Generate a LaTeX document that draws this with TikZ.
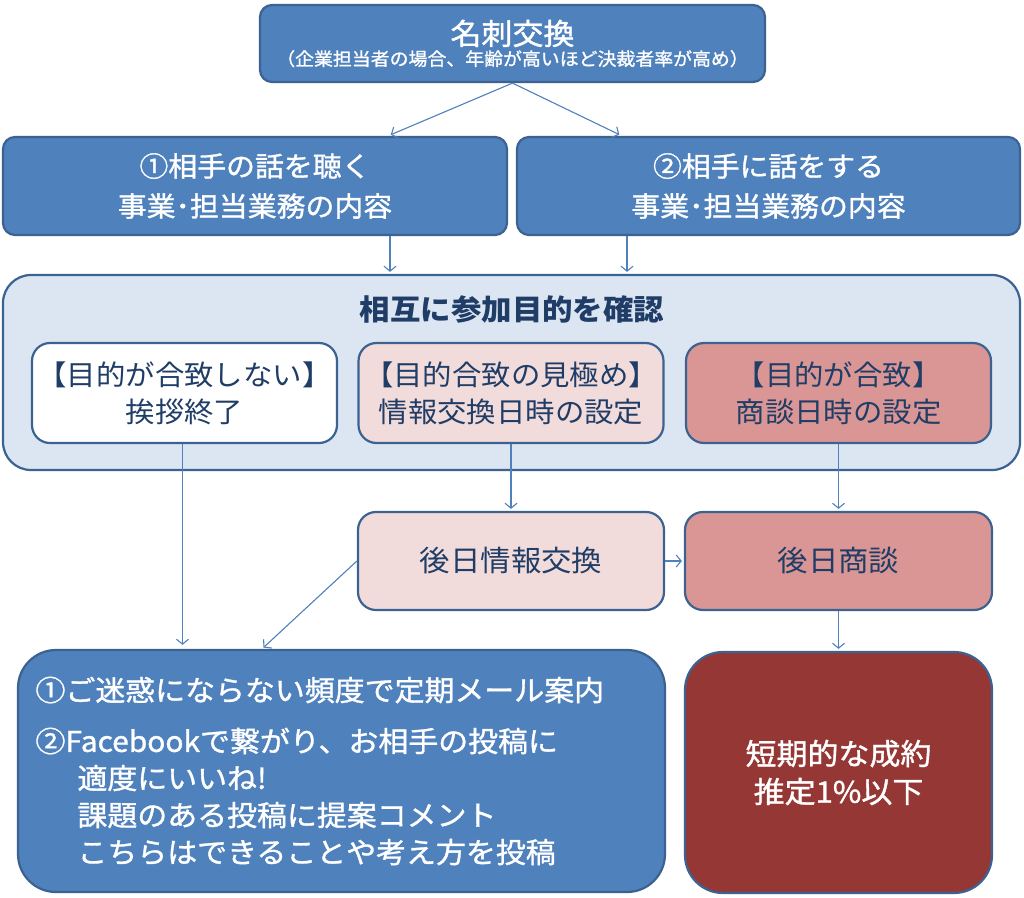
\documentclass[tikz,border=0pt]{standalone}
\usepackage{fontspec}
\setmainfont{Noto Sans CJK JP}[FakeStretch=1.05]
\newfontfamily\semibf{Noto Sans CJK JP}[FakeStretch=1.05,FakeBold=1.2]
\usetikzlibrary{arrows.meta}
\definecolor{boxblue}{HTML}{4F81BD}
\definecolor{edgeblue}{HTML}{3B6291}
\definecolor{paleblue}{HTML}{DCE6F2}
\definecolor{palepink}{HTML}{F2DCDB}
\definecolor{rose}{HTML}{D99694}
\definecolor{darkred}{HTML}{953735}
\definecolor{navy}{HTML}{1F3D66}
\begin{document}
\begin{tikzpicture}[x=1pt,y=-1pt,
  box/.style={draw=edgeblue, line width=2.2pt, rounded corners=12pt, align=center, inner sep=0pt},
  bluebox/.style={box, fill=boxblue, text=white},
  innerbox/.style={box, rounded corners=18pt, text=navy, minimum width=305pt, minimum height=100pt,
     font=\fontsize{28}{37}\selectfont},
  arr/.style={draw=boxblue, line width=1.1pt, -{Straight Barb[length=5pt,width=12pt]}}]
\useasboundingbox (0,0) rectangle (1024,897);
\fill[white] (0,0) rectangle (1024,897);

\node[bluebox, minimum width=505pt, minimum height=77pt] (top) at (512.5,43.5)
  {{\semibf\fontsize{29.5}{32}\selectfont 名刺交換}\\[2pt]{\semibf\fontsize{18}{20}\selectfont （企業担当者の場合、年齢が高いほど決裁者率が高め）}};

\node[bluebox, minimum width=504pt, minimum height=98pt, font=\semibf\fontsize{27.5}{40}\selectfont] (b1) at (255,186)
  {①相手の話を聴く\\事業･担当業務の内容};
\node[bluebox, minimum width=503pt, minimum height=98pt, font=\semibf\fontsize{27.5}{40}\selectfont] (b2) at (768.5,186)
  {②相手に話をする\\事業･担当業務の内容};

\node[box, rounded corners=28pt, fill=paleblue, minimum width=1017pt, minimum height=195pt] (big) at (511.5,372.5) {};
\node[text=navy, font=\fontsize{29}{30}\selectfont\bfseries] (title) at (512,309) {相互に参加目的を確認};

\node[innerbox, fill=white] (ng) at (184.5,393) {【目的が合致しない】\\挨拶終了};
\node[innerbox, fill=palepink] (mid) at (511,393) {【目的合致の見極め】\\情報交換日時の設定};
\node[innerbox, fill=rose] (ok) at (838.5,393) {【目的が合致】\\商談日時の設定};

\node[innerbox, fill=palepink, minimum width=306pt, minimum height=98pt, font=\fontsize{29}{30}\selectfont] (info) at (511,561) {後日情報交換};
\node[innerbox, fill=rose, minimum width=307pt, minimum height=98pt, font=\fontsize{29}{30}\selectfont] (deal) at (838.5,561) {後日商談};

\node[bluebox, rounded corners=38pt, minimum width=647pt, minimum height=242pt, text width=612pt, align=left,
  font=\semibf\fontsize{28.5}{37}\selectfont] (follow) at (341.5,771)
  {①ご迷惑にならない頻度で定期メール案内\\[14pt]
   ②Facebookで繋がり、お相手の投稿に\\
   \hspace*{42pt}適度にいいね!\\
   \hspace*{42pt}課題のある投稿に提案コメント\\
   \hspace*{42pt}こちらはできることや考え方を投稿};

\node[box, rounded corners=38pt, fill=darkred, text=white, minimum width=307pt, minimum height=241pt,
  font=\semibf\fontsize{29.5}{38}\selectfont] (result) at (838.5,772.5) {短期的な成約\\推定1\%以下};

\draw[arr, shorten >=3pt] (top.south) -- ([xshift=133pt]b1.north);
\draw[arr, shorten >=3pt] (top.south) -- ([xshift=-146.5pt]b2.north);
\draw[arr, shorten >=2pt] ([xshift=135pt]b1.south) -- ([xshift=135pt]b1.south |- big.north);
\draw[arr, shorten >=2pt] ([xshift=-141.5pt]b2.south) -- ([xshift=-141.5pt]b2.south |- big.north);
\draw[arr, shorten >=4pt] ([xshift=-2pt]ng.south) -- ([xshift=-2pt]ng.south |- follow.north);
\draw[arr, shorten >=2pt] (mid.south) -- (info.north);
\draw[arr, shorten >=2pt] (ok.south) -- (deal.north);
\draw[arr, shorten >=2pt] (info.east) -- (deal.west);
\draw[arr, shorten >=2pt] (info.west) -- ([xshift=-79.5pt]follow.north);
\draw[arr, shorten >=2pt] (deal.south) -- (result.north);
\end{tikzpicture}
\end{document}
